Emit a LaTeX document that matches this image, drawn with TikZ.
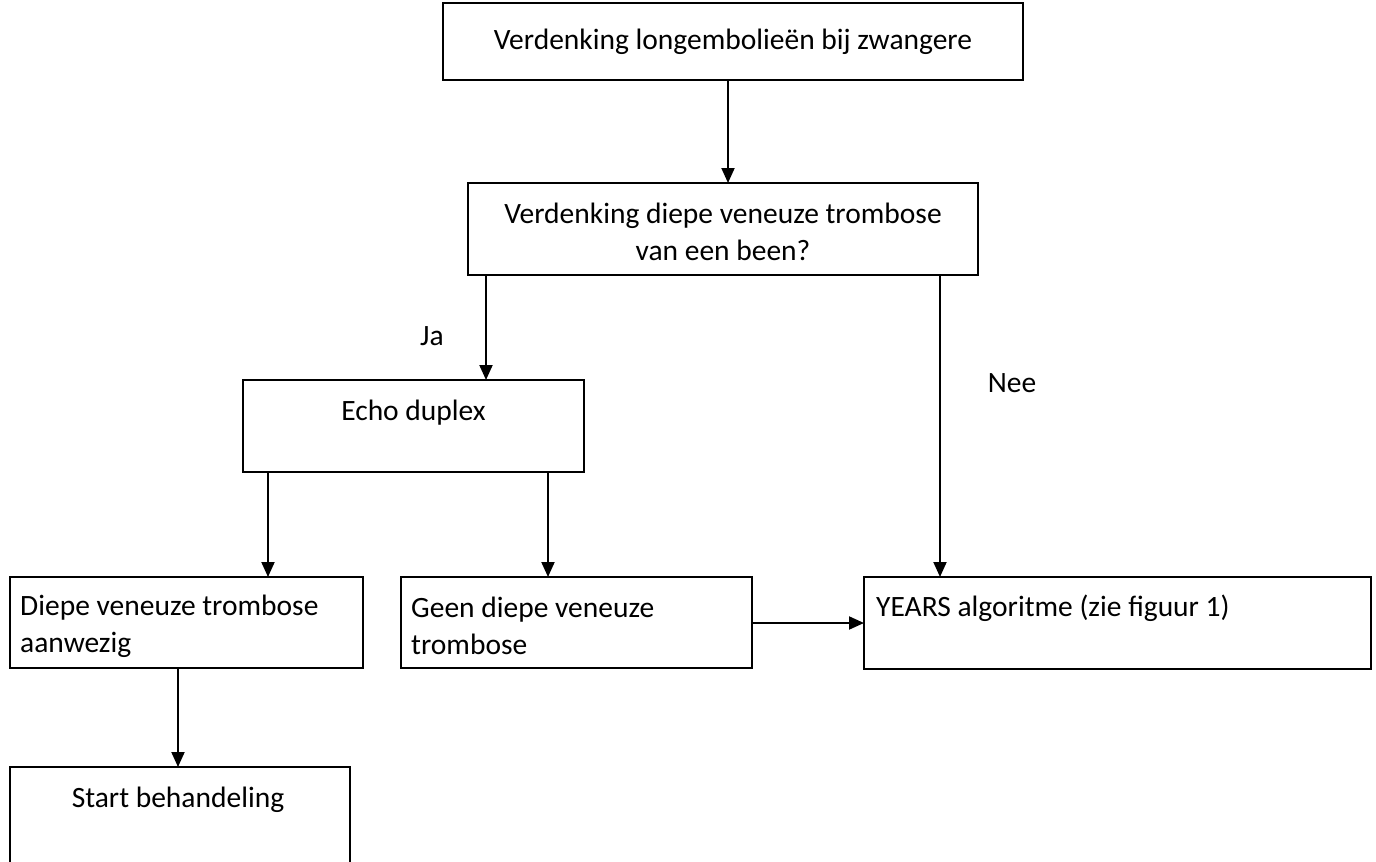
\documentclass[tikz,border=0pt]{standalone}
\usepackage{fontspec}
\setmainfont{Carlito}
\usetikzlibrary{arrows.meta}
\begin{document}
\begin{tikzpicture}[x=1pt,y=-1pt,
  box/.style={draw,line width=2.2pt,inner sep=0pt,outer sep=0pt},
  txt/.style={inner sep=0pt,font=\fontsize{29.5}{37}\selectfont,align=center},
  ltxt/.style={inner sep=0pt,font=\fontsize{29.5}{37}\selectfont,align=left,anchor=west},
  arr/.style={line width=2pt,-{Triangle[length=15pt,width=13pt]}}]
\useasboundingbox (0,0) rectangle (1376,862);
\fill[white] (0,0) rectangle (1376,862);
% boxes
\node[box,minimum width=580pt,minimum height=77pt] (b1) at (733,41.5) {};
\node[box,minimum width=510pt,minimum height=92pt] (b2) at (723,229) {};
\node[box,minimum width=341pt,minimum height=92pt] (b3) at (413.5,426) {};
\node[box,minimum width=353pt,minimum height=91pt] (b4) at (186.5,622.5) {};
\node[box,minimum width=351pt,minimum height=91pt] (b5) at (576.5,622.5) {};
\node[box,minimum width=507pt,minimum height=92pt] (b6) at (1117.5,623) {};
\node[box,minimum width=340pt,minimum height=100pt] (b7) at (180,817) {};
% texts
\node[txt] (t1) at (733,42) {Verdenking longembolieën bij zwangere};
\node[txt] (t2) at (723,232) {Verdenking diepe veneuze trombose\\van een been?};
\node[txt] (t3) at (413.5,413) {Echo duplex};
\node[ltxt] (t4) at (20,626) {Diepe veneuze trombose\\aanwezig};
\node[ltxt] (t5) at (411,626) {Geen diepe veneuze\\trombose};
\node[ltxt] (t6) at (876,608) {YEARS algoritme (zie figuur 1)};
\node[txt] (t7) at (178,800) {Start behandeling};
\node[txt] (ja) at (432,336) {Ja};
\node[txt] (nee) at (1012,383) {Nee};
% arrows
\draw[arr] ([xshift=-5pt]b1.south) -- ([xshift=-5pt]b1.south |- b2.north);
\draw[arr] ([xshift=18pt]b2.south west) -- ([xshift=18pt]b2.south west |- b3.north);
\draw[arr] ([xshift=-38pt]b2.south east) -- ([xshift=-38pt]b2.south east |- b6.north);
\draw[arr] ([xshift=25pt]b3.south west) -- ([xshift=25pt]b3.south west |- b4.north);
\draw[arr] ([xshift=-36pt]b3.south east) -- ([xshift=-36pt]b3.south east |- b5.north);
\draw[arr] ([yshift=-0.5pt]b5.east) -- ([yshift=-0.5pt]b5.east -| b6.west);
\draw[arr] ([xshift=168pt]b4.south west) -- ([xshift=168pt]b4.south west |- b7.north);
\end{tikzpicture}
\end{document}
